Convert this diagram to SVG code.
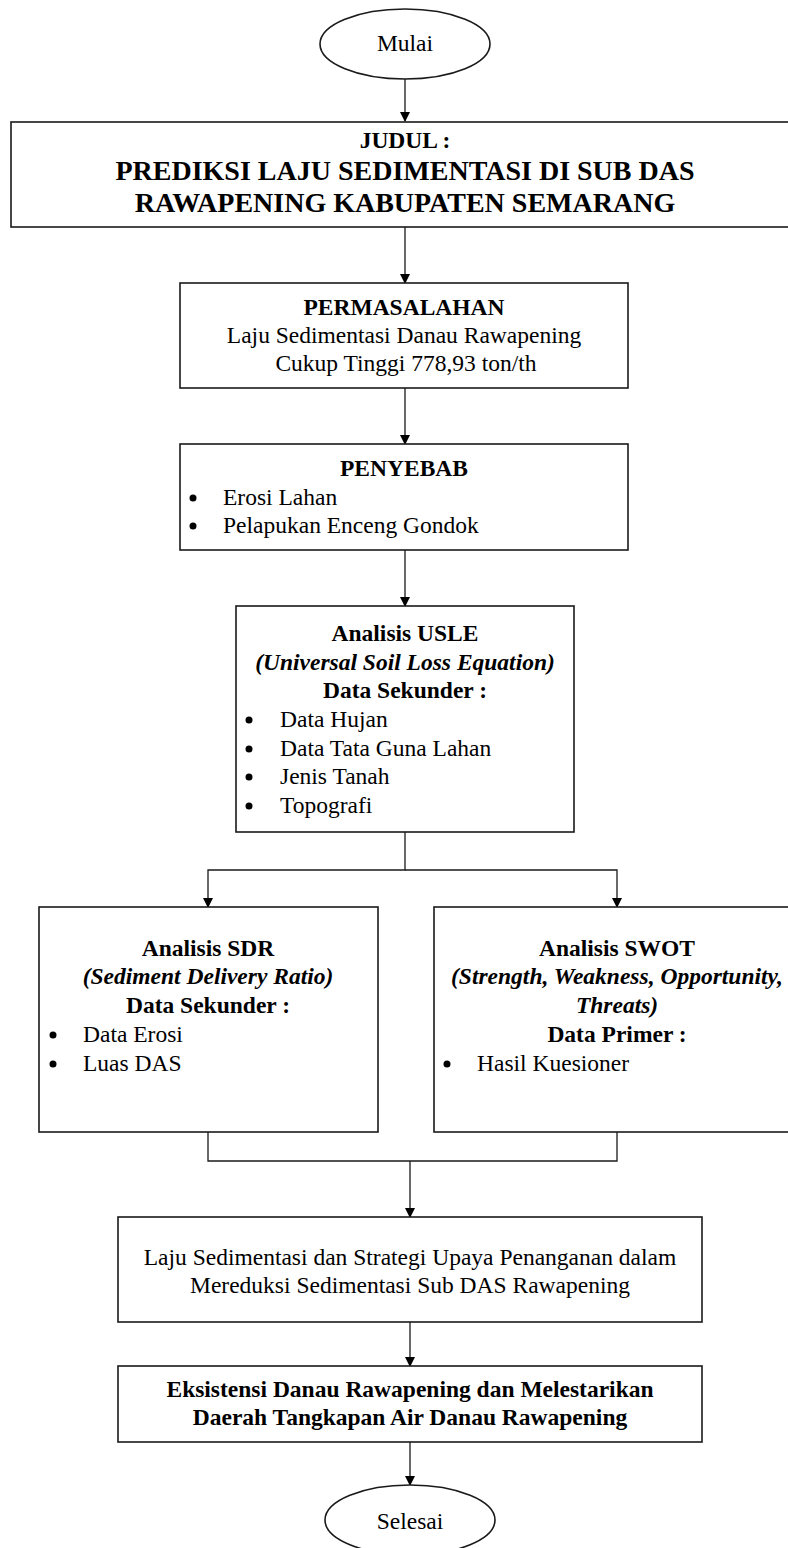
<svg xmlns="http://www.w3.org/2000/svg" width="788" height="1548" viewBox="0 0 788 1548">
<style>
  .box { fill: #fff; stroke: #1a1a1a; stroke-width: 1.6; }
  .con { fill: none; stroke: #1a1a1a; stroke-width: 1.3; }
  .dot { fill: #000; }
  text { font-family: "Liberation Serif", "Times New Roman", Times, serif; font-size: 23.5px; fill: #000; }
  .c { text-anchor: middle; }
  .b { font-weight: bold; }
  .bi { font-weight: bold; font-style: italic; }
  .big { font-size: 28px; font-weight: bold; }
</style>
<defs>
  <marker id="arr" markerWidth="10" markerHeight="12" refX="9" refY="5" orient="auto" markerUnits="userSpaceOnUse">
    <path d="M0,0 L10,5 L0,10 Z" fill="#000"/>
  </marker>
</defs>
<rect width="788" height="1548" fill="#fff"/>

<g id="connectors">
  <line class="con" x1="405" y1="79" x2="405" y2="121" marker-end="url(#arr)"/>
  <line class="con" x1="405" y1="227" x2="405" y2="283" marker-end="url(#arr)"/>
  <line class="con" x1="405" y1="388" x2="405" y2="444" marker-end="url(#arr)"/>
  <line class="con" x1="405" y1="550" x2="405" y2="606" marker-end="url(#arr)"/>
  <polyline class="con" points="405,832 405,870 208,870 208,907" marker-end="url(#arr)"/>
  <polyline class="con" points="405,870 617,870 617,907" marker-end="url(#arr)"/>
  <polyline class="con" points="208,1132 208,1161 617,1161 617,1132"/>
  <line class="con" x1="410" y1="1161" x2="410" y2="1217" marker-end="url(#arr)"/>
  <line class="con" x1="410" y1="1322" x2="410" y2="1366" marker-end="url(#arr)"/>
  <line class="con" x1="410" y1="1442" x2="410" y2="1485" marker-end="url(#arr)"/>
</g>

<g id="mulai">
  <ellipse class="box" cx="405" cy="44" rx="85" ry="35"/>
  <text class="c" x="405" y="51">Mulai</text>
</g>

<g id="judul">
  <rect class="box" x="11" y="122" width="790" height="105"/>
  <text class="c b" x="405" y="148">JUDUL :</text>
  <text class="c big" x="405" y="180">PREDIKSI LAJU SEDIMENTASI DI SUB DAS</text>
  <text class="c big" x="405" y="212">RAWAPENING KABUPATEN SEMARANG</text>
</g>

<g id="permasalahan">
  <rect class="box" x="180" y="283" width="448" height="105"/>
  <text class="c b" x="404" y="315">PERMASALAHAN</text>
  <text class="c" x="404" y="343">Laju Sedimentasi Danau Rawapening</text>
  <text class="c" x="406" y="371">Cukup Tinggi 778,93 ton/th</text>
</g>

<g id="penyebab">
  <rect class="box" x="180" y="444" width="448" height="106"/>
  <text class="c b" x="404" y="476">PENYEBAB</text>
  <circle class="dot" cx="193" cy="498" r="3.5"/>
  <text x="223" y="505">Erosi Lahan</text>
  <circle class="dot" cx="193" cy="526" r="3.5"/>
  <text x="223" y="533">Pelapukan Enceng Gondok</text>
</g>

<g id="usle">
  <rect class="box" x="236" y="606" width="338" height="226"/>
  <text class="c b" x="405" y="641">Analisis USLE</text>
  <text class="c bi" x="405" y="670">(Universal Soil Loss Equation)</text>
  <text class="c b" x="405" y="698">Data Sekunder :</text>
  <circle class="dot" cx="249" cy="720" r="3.5"/>
  <text x="280" y="727">Data Hujan</text>
  <circle class="dot" cx="249" cy="749" r="3.5"/>
  <text x="280" y="756">Data Tata Guna Lahan</text>
  <circle class="dot" cx="249" cy="777" r="3.5"/>
  <text x="280" y="784">Jenis Tanah</text>
  <circle class="dot" cx="249" cy="806" r="3.5"/>
  <text x="280" y="813">Topografi</text>
</g>

<g id="sdr">
  <rect class="box" x="39" y="907" width="339" height="225"/>
  <text class="c b" x="208" y="956">Analisis SDR</text>
  <text class="c bi" x="208" y="984">(Sediment Delivery Ratio)</text>
  <text class="c b" x="208" y="1013">Data Sekunder :</text>
  <circle class="dot" cx="53" cy="1035" r="3.5"/>
  <text x="83" y="1042">Data Erosi</text>
  <circle class="dot" cx="53" cy="1064" r="3.5"/>
  <text x="83" y="1071">Luas DAS</text>
</g>

<g id="swot">
  <rect class="box" x="434" y="907" width="370" height="225"/>
  <text class="c b" x="617" y="956">Analisis SWOT</text>
  <text class="c bi" x="617" y="984">(Strength, Weakness, Opportunity,</text>
  <text class="c bi" x="617" y="1013">Threats)</text>
  <text class="c b" x="617" y="1042">Data Primer :</text>
  <circle class="dot" cx="447" cy="1064" r="3.5"/>
  <text x="477" y="1071">Hasil Kuesioner</text>
</g>

<g id="hasil">
  <rect class="box" x="118" y="1217" width="584" height="105"/>
  <text class="c" x="410" y="1265">Laju Sedimentasi dan Strategi Upaya Penanganan dalam</text>
  <text class="c" x="410" y="1293">Mereduksi Sedimentasi Sub DAS Rawapening</text>
</g>

<g id="eksistensi">
  <rect class="box" x="118" y="1366" width="584" height="76"/>
  <text class="c b" x="410" y="1397">Eksistensi Danau Rawapening dan Melestarikan</text>
  <text class="c b" x="410" y="1425">Daerah Tangkapan Air Danau Rawapening</text>
</g>

<g id="selesai">
  <ellipse class="box" cx="410" cy="1520" rx="85" ry="35"/>
  <text class="c" x="410" y="1529">Selesai</text>
</g>
</svg>
